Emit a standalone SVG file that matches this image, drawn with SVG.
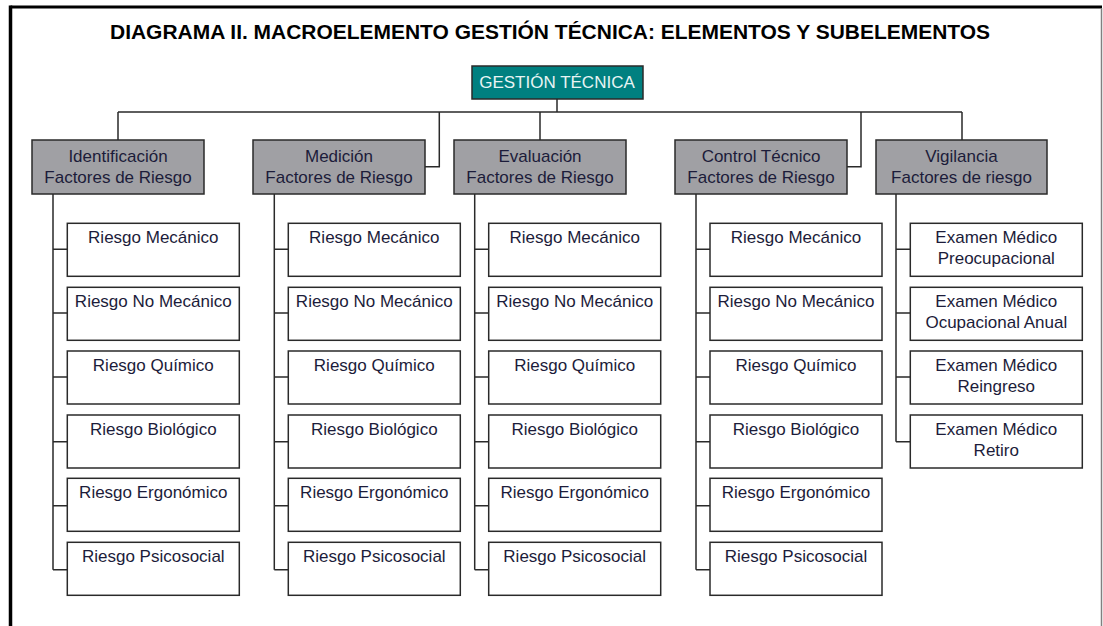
<svg xmlns="http://www.w3.org/2000/svg" width="1103" height="626" viewBox="0 0 1103 626">
<style>
text{font-family:"Liberation Sans",Arial,sans-serif;text-anchor:middle}
.t{font-size:20px;font-weight:bold;fill:#000}
.root rect{fill:#008080;stroke:#2a2a2a;stroke-width:1.5}
.root text{font-size:17px;fill:#e8f4f4}
.l1 rect{fill:#a0a0a4;stroke:#2a2a2a;stroke-width:1.5}
.l1 text{font-size:17px;fill:#1c1c3a}
.l2 rect{fill:#fff;stroke:#2a2a2a;stroke-width:1.5}
.l2 text{font-size:17px;fill:#1c1c3a}
.c{fill:none;stroke:#2a2a2a;stroke-width:1.5}
</style>
<rect width="1103" height="626" fill="#fff"/>
<g id="frame">
<line x1="10.5" y1="7" x2="1102" y2="7" stroke="#000" stroke-width="3"/>
<line x1="10.5" y1="5.5" x2="10.5" y2="626" stroke="#000" stroke-width="3.5"/>
<line x1="1101.5" y1="8" x2="1101.5" y2="626" stroke="#808080" stroke-width="1.5"/>
</g>
<text class="t" x="550" y="39" textLength="880" lengthAdjust="spacingAndGlyphs">DIAGRAMA II. MACROELEMENTO GESTIÓN TÉCNICA: ELEMENTOS Y SUBELEMENTOS</text>
<g id="connectors" class="c">
<path d="M557 99V112M118 112H962M118 112V140M439.3 112V166.7H425M540 112V140M861 112V166.7H846.7M962 112V140"/>
<path d="M53 194V569.7M53 249.3H67.3M53 313H67.3M53 377H67.3M53 441.7H67.3M53 505.7H67.3M53 569.7H67.3"/>
<path d="M274.3 194V569.7M274.3 249.3H288.3M274.3 313H288.3M274.3 377H288.3M274.3 441.7H288.3M274.3 505.7H288.3M274.3 569.7H288.3"/>
<path d="M474.7 194V569.7M474.7 249.3H488.7M474.7 313H488.7M474.7 377H488.7M474.7 441.7H488.7M474.7 505.7H488.7M474.7 569.7H488.7"/>
<path d="M696 194V569.7M696 249.3H710M696 313H710M696 377H710M696 441.7H710M696 505.7H710M696 569.7H710"/>
<path d="M896 194V441.7M896 249.3H910.3M896 313H910.3M896 377H910.3M896 441.7H910.3"/>
</g>
<g id="gestion" class="root"><rect x="472" y="66" width="171" height="33"/><text x="557" y="88">GESTIÓN TÉCNICA</text></g>
<g id="identificacion" class="l1"><rect x="32" y="140" width="172" height="54"/><text x="118" y="162">Identificación</text><text x="118" y="183">Factores de Riesgo</text></g>
<g id="medicion" class="l1"><rect x="253" y="140" width="172" height="54"/><text x="339" y="162">Medición</text><text x="339" y="183">Factores de Riesgo</text></g>
<g id="evaluacion" class="l1"><rect x="454" y="140" width="172" height="54"/><text x="540" y="162">Evaluación</text><text x="540" y="183">Factores de Riesgo</text></g>
<g id="control" class="l1"><rect x="675" y="140" width="172" height="54"/><text x="761" y="162">Control Técnico</text><text x="761" y="183">Factores de Riesgo</text></g>
<g id="vigilancia" class="l1"><rect x="876" y="140" width="171" height="54"/><text x="961.5" y="162">Vigilancia</text><text x="961.5" y="183">Factores de riesgo</text></g>
<g id="c1-1" class="l2"><rect x="67.3" y="223.3" width="172" height="53"/><text x="153.3" y="243.3">Riesgo Mecánico</text></g>
<g id="c1-2" class="l2"><rect x="67.3" y="287.3" width="172" height="53"/><text x="153.3" y="307.3">Riesgo No Mecánico</text></g>
<g id="c1-3" class="l2"><rect x="67.3" y="351" width="172" height="53"/><text x="153.3" y="371">Riesgo Químico</text></g>
<g id="c1-4" class="l2"><rect x="67.3" y="415" width="172" height="53"/><text x="153.3" y="435">Riesgo Biológico</text></g>
<g id="c1-5" class="l2"><rect x="67.3" y="478.3" width="172" height="53"/><text x="153.3" y="498.3">Riesgo Ergonómico</text></g>
<g id="c1-6" class="l2"><rect x="67.3" y="542.3" width="172" height="53"/><text x="153.3" y="562.3">Riesgo Psicosocial</text></g>
<g id="c2-1" class="l2"><rect x="288.3" y="223.3" width="172" height="53"/><text x="374.3" y="243.3">Riesgo Mecánico</text></g>
<g id="c2-2" class="l2"><rect x="288.3" y="287.3" width="172" height="53"/><text x="374.3" y="307.3">Riesgo No Mecánico</text></g>
<g id="c2-3" class="l2"><rect x="288.3" y="351" width="172" height="53"/><text x="374.3" y="371">Riesgo Químico</text></g>
<g id="c2-4" class="l2"><rect x="288.3" y="415" width="172" height="53"/><text x="374.3" y="435">Riesgo Biológico</text></g>
<g id="c2-5" class="l2"><rect x="288.3" y="478.3" width="172" height="53"/><text x="374.3" y="498.3">Riesgo Ergonómico</text></g>
<g id="c2-6" class="l2"><rect x="288.3" y="542.3" width="172" height="53"/><text x="374.3" y="562.3">Riesgo Psicosocial</text></g>
<g id="c3-1" class="l2"><rect x="488.7" y="223.3" width="172" height="53"/><text x="574.7" y="243.3">Riesgo Mecánico</text></g>
<g id="c3-2" class="l2"><rect x="488.7" y="287.3" width="172" height="53"/><text x="574.7" y="307.3">Riesgo No Mecánico</text></g>
<g id="c3-3" class="l2"><rect x="488.7" y="351" width="172" height="53"/><text x="574.7" y="371">Riesgo Químico</text></g>
<g id="c3-4" class="l2"><rect x="488.7" y="415" width="172" height="53"/><text x="574.7" y="435">Riesgo Biológico</text></g>
<g id="c3-5" class="l2"><rect x="488.7" y="478.3" width="172" height="53"/><text x="574.7" y="498.3">Riesgo Ergonómico</text></g>
<g id="c3-6" class="l2"><rect x="488.7" y="542.3" width="172" height="53"/><text x="574.7" y="562.3">Riesgo Psicosocial</text></g>
<g id="c4-1" class="l2"><rect x="710" y="223.3" width="172" height="53"/><text x="796" y="243.3">Riesgo Mecánico</text></g>
<g id="c4-2" class="l2"><rect x="710" y="287.3" width="172" height="53"/><text x="796" y="307.3">Riesgo No Mecánico</text></g>
<g id="c4-3" class="l2"><rect x="710" y="351" width="172" height="53"/><text x="796" y="371">Riesgo Químico</text></g>
<g id="c4-4" class="l2"><rect x="710" y="415" width="172" height="53"/><text x="796" y="435">Riesgo Biológico</text></g>
<g id="c4-5" class="l2"><rect x="710" y="478.3" width="172" height="53"/><text x="796" y="498.3">Riesgo Ergonómico</text></g>
<g id="c4-6" class="l2"><rect x="710" y="542.3" width="172" height="53"/><text x="796" y="562.3">Riesgo Psicosocial</text></g>
<g id="c5-1" class="l2"><rect x="910.3" y="223.3" width="172" height="53"/><text x="996.3" y="243.3">Examen Médico</text><text x="996.3" y="264.3">Preocupacional</text></g>
<g id="c5-2" class="l2"><rect x="910.3" y="287.3" width="172" height="53"/><text x="996.3" y="307.3">Examen Médico</text><text x="996.3" y="328.3">Ocupacional Anual</text></g>
<g id="c5-3" class="l2"><rect x="910.3" y="351" width="172" height="53"/><text x="996.3" y="371">Examen Médico</text><text x="996.3" y="392">Reingreso</text></g>
<g id="c5-4" class="l2"><rect x="910.3" y="415" width="172" height="53"/><text x="996.3" y="435">Examen Médico</text><text x="996.3" y="456">Retiro</text></g>
</svg>
